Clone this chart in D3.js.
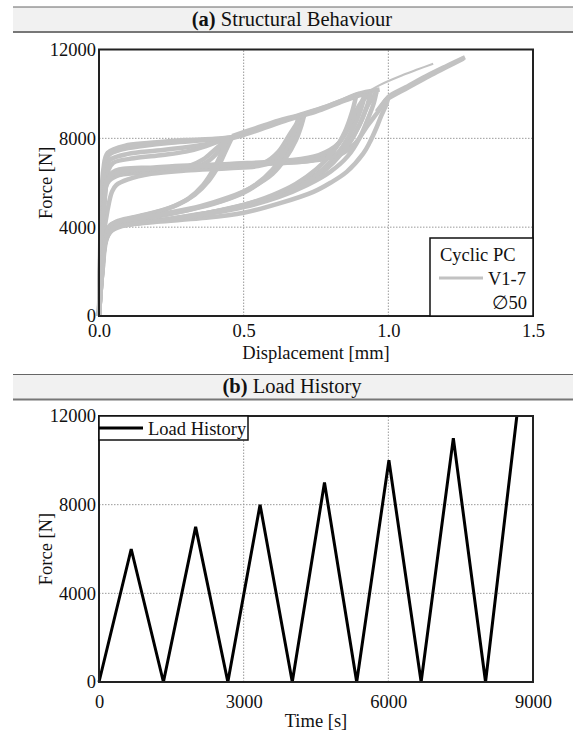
<!DOCTYPE html>
<html><head><meta charset="utf-8">
<script src="https://cdn.jsdelivr.net/npm/d3@7"></script>
<style>
body{margin:0;background:#fff}
svg{display:block}
svg text{font-family:'Liberation Serif','Times New Roman','DejaVu Serif',serif !important;fill:#111}
</style>
</head><body><svg id="c" width="573" height="734" font-family="Liberation Serif, DejaVu Serif, serif"></svg>
<script>
// ---------- Panel (a) data: displacement [mm], force [N] ----------
const dispTicks = [0.0, 0.5, 1.0, 1.5];
const forceTicks = [0, 4000, 8000, 12000];
const load8a = [[0,0],[0.003,2000],[0.007,4000],[0.013,5800],[0.022,6800],[0.035,7250],[0.08,7500],[0.15,7650],[0.25,7800],[0.35,7900],[0.42,7970],[0.46,8050]];
const load8b = [[0,0],[0.004,2000],[0.009,4000],[0.016,5800],[0.026,6700],[0.04,7050],[0.1,7300],[0.2,7450],[0.3,7600],[0.38,7760],[0.44,7950]];
const load8c = [[0,0],[0.005,2000],[0.011,4000],[0.02,5700],[0.032,6550],[0.05,6900],[0.12,7100],[0.22,7250],[0.3,7400],[0.37,7650],[0.42,7900],[0.45,8000]];
const load8d = [[0,0],[0.003,2500],[0.008,5000],[0.015,6600],[0.03,7350],[0.1,7700],[0.2,7820],[0.3,7920],[0.4,7980],[0.46,8050]];
const envA = [[0.45,8000],[0.52,8300],[0.6,8650],[0.66,8900],[0.7,9050],[0.76,9300],[0.83,9650],[0.89,9980],[0.95,10150],[0.97,10200]];
const envB = [[0.44,7950],[0.5,8150],[0.58,8500],[0.65,8820],[0.69,8980],[0.75,9200],[0.82,9550],[0.88,9850],[0.92,10000]];
const envC = [[0.46,8100],[0.54,8450],[0.62,8800],[0.68,9000],[0.73,9200],[0.8,9500],[0.86,9800],[0.9,10000]];
const load9a = [[0,0],[0.004,2500],[0.012,5000],[0.025,6100],[0.05,6400],[0.15,6520],[0.25,6620],[0.31,6750],[0.36,7050],[0.41,7600],[0.45,8000]];
const load9b = [[0,0],[0.005,2500],[0.014,5000],[0.03,6000],[0.06,6300],[0.15,6450],[0.25,6550],[0.33,6680],[0.38,7000],[0.42,7500],[0.46,8050]];
const load10a = [[0,0],[0.005,2500],[0.015,5000],[0.03,6150],[0.08,6400],[0.2,6550],[0.35,6650],[0.5,6750],[0.57,6900],[0.62,7400],[0.66,8200],[0.7,9000]];
const load10b = [[0,0],[0.01,3000],[0.03,4800],[0.045,5600],[0.06,5900],[0.1,6150],[0.18,6400],[0.3,6550],[0.45,6650],[0.55,6750],[0.6,6950],[0.64,7500],[0.68,8400],[0.71,9050]];
const load11a = [[0,0],[0.006,2500],[0.016,5000],[0.035,6250],[0.1,6500],[0.3,6700],[0.5,6800],[0.65,6900],[0.75,7050],[0.81,7500],[0.86,8400],[0.9,9400],[0.92,10000]];
const load11b = [[0,0],[0.006,2500],[0.017,5000],[0.04,6300],[0.15,6600],[0.4,6800],[0.6,6900],[0.7,6950],[0.8,7150],[0.86,7700],[0.9,8600],[0.93,9500],[0.96,10100]];
const load11c = [[0,0],[0.007,2500],[0.018,5000],[0.04,6400],[0.2,6700],[0.45,6850],[0.65,7000],[0.76,7250],[0.83,7800],[0.87,8700],[0.9,9500],[0.94,10100]];
const load12a = [[0,0],[0.006,2500],[0.018,5000],[0.04,6300],[0.2,6650],[0.45,6800],[0.7,7000],[0.82,7200],[0.88,7700],[0.93,8600],[0.97,9300],[1.0,9860],[1.06,10300],[1.13,10800],[1.2,11250],[1.265,11650]];
const load12b = [[0.96,9200],[0.99,9700],[1.0,9800],[1.07,10300],[1.14,10800],[1.2,11200],[1.26,11600]];
const tailThin = [[0.93,10100],[0.97,10400],[1.05,10850],[1.1,11100],[1.155,11360]];
const unl8a = [[0.46,8050],[0.44,7500],[0.415,6800],[0.38,6100],[0.33,5450],[0.27,5000],[0.2,4700],[0.12,4450],[0.06,4250],[0.035,4000],[0.02,3300],[0.01,2000],[0,0]];
const unl8b = [[0.44,7950],[0.425,7400],[0.4,6700],[0.36,5900],[0.31,5300],[0.24,4850],[0.16,4550],[0.08,4300],[0.04,4100],[0.025,3700],[0.012,2500],[0,0]];
const unl9a = [[0.7,9050],[0.69,8500],[0.665,7700],[0.625,6900],[0.57,6150],[0.5,5550],[0.42,5150],[0.32,4800],[0.2,4500],[0.1,4250],[0.04,4050],[0.025,3600],[0.01,2000],[0,0]];
const unl9b = [[0.69,8980],[0.675,8300],[0.65,7500],[0.6,6600],[0.54,5900],[0.46,5350],[0.36,4950],[0.25,4600],[0.14,4350],[0.06,4150],[0.03,3800],[0.012,2200],[0,0]];
const unl9c = [[0.71,9100],[0.7,8600],[0.68,7900],[0.645,7100],[0.6,6400],[0.53,5800],[0.45,5350],[0.35,4950],[0.22,4600],[0.1,4300],[0.04,4100],[0.02,3400],[0.008,1800],[0,0]];
const unl10a = [[0.92,10000],[0.905,9300],[0.88,8500],[0.84,7600],[0.79,6800],[0.72,6100],[0.64,5550],[0.54,5100],[0.42,4750],[0.28,4450],[0.15,4200],[0.06,4000],[0.03,3600],[0.012,2000],[0,0]];
const unl10b = [[0.89,9980],[0.875,9200],[0.85,8300],[0.81,7400],[0.75,6600],[0.68,5950],[0.6,5450],[0.5,5000],[0.38,4650],[0.25,4380],[0.12,4150],[0.05,3950],[0.025,3500],[0.01,1800],[0,0]];
const unl10c = [[0.94,10100],[0.925,9400],[0.9,8600],[0.86,7700],[0.81,6900],[0.75,6250],[0.67,5700],[0.57,5250],[0.45,4850],[0.32,4500],[0.18,4250],[0.07,4050],[0.03,3700],[0.012,2000],[0,0]];
const unl11a = [[1.0,9860],[0.994,9560],[0.975,9000],[0.96,8510],[0.935,7800],[0.913,7310],[0.856,6490],[0.8,6000],[0.741,5590],[0.626,5080],[0.5,4650],[0.35,4400],[0.2,4240],[0.08,4050],[0.04,3800],[0.02,3200],[0.008,1500],[0,0]];
const unl11b = [[0.96,10160],[0.95,9600],[0.93,8900],[0.9,8000],[0.86,7200],[0.8,6500],[0.72,5900],[0.62,5350],[0.5,4900],[0.38,4600],[0.25,4350],[0.12,4150],[0.05,3950],[0.025,3500],[0.01,1800],[0,0]];
const curvesA = [load8a,load8b,load8c,load8d,envA,envB,envC,load9a,load9b,load10a,load10b,load11a,load11b,load11c,load12a,load12b,unl8a,unl8b,unl9a,unl9b,unl9c,unl10a,unl10b,unl10c,unl11a,unl11b];

// ---------- Panel (b) data: time [s], force [N] ----------
const timeTicks = [0, 3000, 6000, 9000];
const loadTime = [0,668,1336,2004,2672,3340,4008,4676,5344,6012,6680,7348,8016,8665];
const loadForce = [0,6000,0,7000,0,8000,0,9000,0,10000,0,11000,0,12000];

const svg = d3.select("#c");
const FS = 18.5;
const FF = "Liberation Serif, DejaVu Serif, serif";

function txt(sel){ return sel.attr("font-family",FF).attr("fill","#111"); }

function titleBar(y0, y1, label, rest){
  svg.append("rect").attr("x",13).attr("y",y0).attr("width",560).attr("height",y1-y0).attr("fill","#f1f1f1");
  svg.append("line").attr("x1",13).attr("x2",573).attr("y1",y0).attr("y2",y0).attr("stroke","#666").attr("stroke-width",1);
  svg.append("line").attr("x1",13).attr("x2",573).attr("y1",y1).attr("y2",y1).attr("stroke","#777").attr("stroke-width",2);
  const t = txt(svg.append("text")).attr("x",292).attr("y",y1-6.5).attr("text-anchor","middle").attr("font-size",20.5);
  t.append("tspan").attr("font-weight","bold").text(label);
  t.append("tspan").text(" " + rest);
}

function panel(x, y, xt, yt, xFmt, xPad, xLabel, xLabelY){
  const g = svg.append("g");
  const [x0,x1] = x.range(), [y0,y1] = y.range();
  g.selectAll(".gx").data(xt.slice(1,-1)).join("line")
    .attr("x1",d=>x(d)).attr("x2",d=>x(d)).attr("y1",y0).attr("y2",y1)
    .attr("stroke","#9a9a9a").attr("stroke-width",1).attr("stroke-dasharray","1.5,1.5");
  g.selectAll(".gy").data(yt.slice(1,-1)).join("line")
    .attr("x1",x0).attr("x2",x1).attr("y1",d=>y(d)).attr("y2",d=>y(d))
    .attr("stroke","#9a9a9a").attr("stroke-width",1).attr("stroke-dasharray","1.5,1.5");
  const ax = svg.append("g").attr("transform",`translate(0,${y0})`)
    .call(d3.axisBottom(x).tickValues(xt).tickSize(0).tickPadding(xPad).tickFormat(xFmt));
  const ay = svg.append("g").attr("transform",`translate(${x0},0)`)
    .call(d3.axisLeft(y).tickValues(yt).tickSize(0).tickPadding(3).tickFormat(d3.format("d")));
  [ax,ay].forEach(a=>{a.attr("font-family",FF).attr("font-size",FS); a.select(".domain").remove(); a.selectAll("text").attr("fill","#111");});
  txt(svg.append("text")).attr("x",(x0+x1)/2).attr("y",xLabelY).attr("text-anchor","middle").attr("font-size",FS).text(xLabel);
  txt(svg.append("text")).attr("transform",`translate(52,${(y0+y1)/2}) rotate(-90)`).attr("text-anchor","middle").attr("font-size",FS).text("Force [N]");
  return g;
}
function frame(x,y){
  const [x0,x1] = x.range(), [y0,y1] = y.range();
  svg.append("rect").attr("x",x0).attr("y",y1).attr("width",x1-x0).attr("height",y0-y1)
    .attr("fill","none").attr("stroke","#222").attr("stroke-width",2);
}

// ---------- Panel (a) ----------
titleBar(7, 32, "(a)", "Structural Behaviour");
const xA = d3.scaleLinear([0,1.5],[99,533]);
const yA = d3.scaleLinear([0,12000],[316,49.5]);
const gA = panel(xA, yA, dispTicks, forceTicks, d3.format(".1f"), 8, "Displacement [mm]", 359);
const lineA = d3.line().x(d=>xA(d[0])).y(d=>yA(d[1])).curve(d3.curveCatmullRom.alpha(0.5));
gA.selectAll(".cv").data(curvesA).join("path").attr("d",lineA)
  .attr("fill","none").attr("stroke","#c2c2c2").attr("stroke-width",4.5).attr("stroke-linejoin","round");
gA.append("path").datum(tailThin).attr("d",lineA).attr("fill","none").attr("stroke","#c2c2c2").attr("stroke-width",2);
frame(xA,yA);
// legend (a)
svg.append("rect").attr("x",430).attr("y",238).attr("width",103).attr("height",78).attr("fill","#fff").attr("stroke","#111").attr("stroke-width",1.5);
txt(svg.append("text")).attr("x",440).attr("y",261).attr("font-size",FS).text("Cyclic PC");
svg.append("line").attr("x1",439).attr("x2",483).attr("y1",278).attr("y2",278).attr("stroke","#c2c2c2").attr("stroke-width",3);
txt(svg.append("text")).attr("x",526).attr("y",285).attr("text-anchor","end").attr("font-size",FS).text("V1-7");
txt(svg.append("text")).attr("x",527).attr("y",309).attr("text-anchor","end").attr("font-size",FS).text("∅50");

// ---------- Panel (b) ----------
titleBar(374.5, 399.5, "(b)", "Load History");
const xB = d3.scaleLinear([0,9000],[99,533]);
const yB = d3.scaleLinear([0,12000],[682,416]);
const gB = panel(xB, yB, timeTicks, forceTicks, d3.format("d"), 13, "Time [s]", 727);
const lineB = d3.line().x((d,i)=>xB(loadTime[i])).y((d,i)=>yB(loadForce[i]));
gB.append("path").datum(loadTime).attr("d",lineB).attr("fill","none").attr("stroke","#000").attr("stroke-width",3).attr("stroke-linejoin","miter");
frame(xB,yB);
// legend (b)
svg.append("rect").attr("x",99).attr("y",416).attr("width",149).attr("height",24).attr("fill","#fff").attr("stroke","#111").attr("stroke-width",1.5);
svg.append("line").attr("x1",99).attr("x2",143).attr("y1",428).attr("y2",428).attr("stroke","#000").attr("stroke-width",3);
txt(svg.append("text")).attr("x",148).attr("y",434.5).attr("font-size",FS).text("Load History");
</script></body></html>
